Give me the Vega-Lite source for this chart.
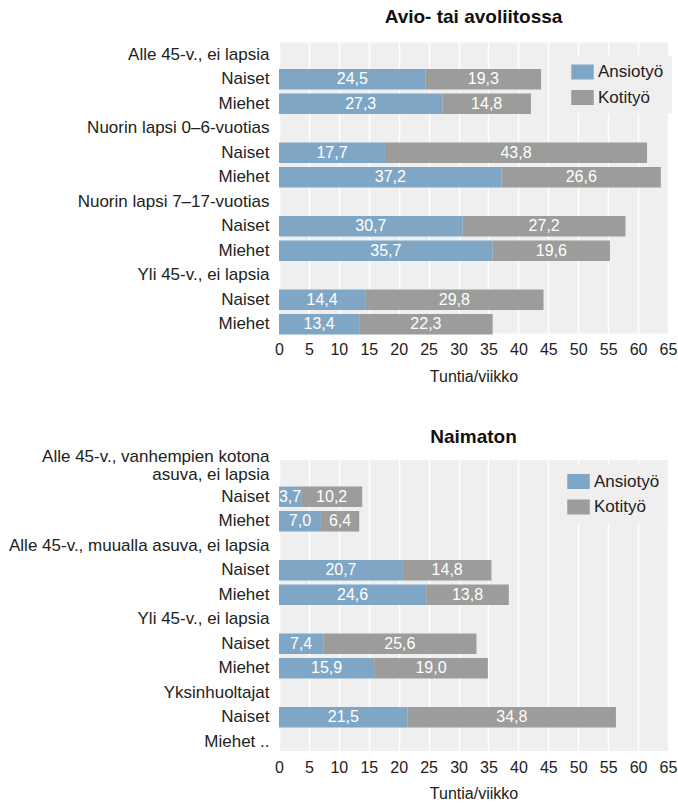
{
  "$schema": "https://vega.github.io/schema/vega-lite/v6.json",
  "padding": {"left": 8, "top": 7.5, "right": 5, "bottom": 5},
  "spacing": 43.5,
  "datasets": {
    "hours": [
      {"panel": "A", "row": "a1|Naiset", "type": "Ansiotyö", "hours": 24.5},
      {"panel": "A", "row": "a1|Naiset", "type": "Kotityö", "hours": 19.3},
      {"panel": "A", "row": "a2|Miehet", "type": "Ansiotyö", "hours": 27.3},
      {"panel": "A", "row": "a2|Miehet", "type": "Kotityö", "hours": 14.8},
      {"panel": "A", "row": "b1|Naiset", "type": "Ansiotyö", "hours": 17.7},
      {"panel": "A", "row": "b1|Naiset", "type": "Kotityö", "hours": 43.8},
      {"panel": "A", "row": "b2|Miehet", "type": "Ansiotyö", "hours": 37.2},
      {"panel": "A", "row": "b2|Miehet", "type": "Kotityö", "hours": 26.6},
      {"panel": "A", "row": "c1|Naiset", "type": "Ansiotyö", "hours": 30.7},
      {"panel": "A", "row": "c1|Naiset", "type": "Kotityö", "hours": 27.2},
      {"panel": "A", "row": "c2|Miehet", "type": "Ansiotyö", "hours": 35.7},
      {"panel": "A", "row": "c2|Miehet", "type": "Kotityö", "hours": 19.6},
      {"panel": "A", "row": "d1|Naiset", "type": "Ansiotyö", "hours": 14.4},
      {"panel": "A", "row": "d1|Naiset", "type": "Kotityö", "hours": 29.8},
      {"panel": "A", "row": "d2|Miehet", "type": "Ansiotyö", "hours": 13.4},
      {"panel": "A", "row": "d2|Miehet", "type": "Kotityö", "hours": 22.3},
      {"panel": "B", "row": "e1|Naiset", "type": "Ansiotyö", "hours": 3.7},
      {"panel": "B", "row": "e1|Naiset", "type": "Kotityö", "hours": 10.2},
      {"panel": "B", "row": "e2|Miehet", "type": "Ansiotyö", "hours": 7.0},
      {"panel": "B", "row": "e2|Miehet", "type": "Kotityö", "hours": 6.4},
      {"panel": "B", "row": "f1|Naiset", "type": "Ansiotyö", "hours": 20.7},
      {"panel": "B", "row": "f1|Naiset", "type": "Kotityö", "hours": 14.8},
      {"panel": "B", "row": "f2|Miehet", "type": "Ansiotyö", "hours": 24.6},
      {"panel": "B", "row": "f2|Miehet", "type": "Kotityö", "hours": 13.8},
      {"panel": "B", "row": "g1|Naiset", "type": "Ansiotyö", "hours": 7.4},
      {"panel": "B", "row": "g1|Naiset", "type": "Kotityö", "hours": 25.6},
      {"panel": "B", "row": "g2|Miehet", "type": "Ansiotyö", "hours": 15.9},
      {"panel": "B", "row": "g2|Miehet", "type": "Kotityö", "hours": 19.0},
      {"panel": "B", "row": "h1|Naiset", "type": "Ansiotyö", "hours": 21.5},
      {"panel": "B", "row": "h1|Naiset", "type": "Kotityö", "hours": 34.8}
    ]
  },
  "resolve": {"legend": {"color": "independent"}},
  "vconcat": [
    {
      "width": 389,
      "height": 291,
      "title": {"text": "Avio- tai avoliitossa", "offset": 16},
      "data": {"name": "hours"},
      "transform": [{"filter": "datum.panel === 'A'"}],
      "encoding": {
        "y": {
          "field": "row", "type": "nominal", "sort": null, "title": null,
          "scale": {"domain": ["a|Alle 45-v., ei lapsia", "a1|Naiset", "a2|Miehet", "b|Nuorin lapsi 0–6-vuotias", "b1|Naiset", "b2|Miehet", "c|Nuorin lapsi 7–17-vuotias", "c1|Naiset", "c2|Miehet", "d|Yli 45-v., ei lapsia", "d1|Naiset", "d2|Miehet"], "range": [0, 294], "paddingInner": 0.17, "paddingOuter": 0.085},
          "axis": {"labelExpr": "slice(split(datum.value, '|'), 1)", "ticks": false, "domain": false, "grid": false, "labelLimit": 400, "labelPadding": 10, "labelLineHeight": 18, "labelFontSize": 17}
        }
      },
      "layer": [
        {
          "mark": "bar",
          "encoding": {
            "x": {"field": "hours", "type": "quantitative", "stack": "zero", "scale": {"domain": [0, 65], "nice": false}, "title": "Tuntia/viikko",
              "axis": {"values": [0, 5, 10, 15, 20, 25, 30, 35, 40, 45, 50, 55, 60, 65], "labelOverlap": false, "grid": true, "gridColor": "#ffffff", "gridWidth": 1.5, "ticks": false, "domain": false, "labelPadding": 8, "titlePadding": 10.5, "labelFlush": false}},
            "color": {"field": "type", "type": "nominal", "scale": {"domain": ["Ansiotyö", "Kotityö"], "range": ["#7fa7c5", "#9c9c9b"]},
              "legend": {"orient": "none", "legendX": 287, "legendY": 13}}
          }
        },
        {
          "transform": [
            {"stack": "hours", "groupby": ["row"], "sort": [{"field": "type"}], "as": ["h0", "h1"]},
            {"fold": ["h0", "h1"], "as": ["edge", "pos"]}
          ],
          "mark": {"type": "text", "color": "#ffffff", "fontSize": 16},
          "encoding": {
            "x": {"aggregate": "mean", "field": "pos", "type": "quantitative", "title": "Tuntia/viikko",
              "axis": {"values": [0, 5, 10, 15, 20, 25, 30, 35, 40, 45, 50, 55, 60, 65], "labelOverlap": false, "grid": true, "gridColor": "#ffffff", "gridWidth": 1.5, "ticks": false, "domain": false, "labelPadding": 8, "titlePadding": 10.5, "labelFlush": false}},
            "text": {"field": "hours", "type": "quantitative", "format": ".1f"},
            "detail": {"field": "type"}
          }
        }
      ]
    },
    {
      "width": 389,
      "height": 291,
      "title": {"text": "Naimaton", "offset": 0.5},
      "data": {"name": "hours"},
      "transform": [{"filter": "datum.panel === 'B'"}],
      "encoding": {
        "y": {
          "field": "row", "type": "nominal", "sort": null, "title": null,
          "scale": {"domain": ["e|Alle 45-v., vanhempien kotona|asuva, ei lapsia", "e1|Naiset", "e2|Miehet", "f|Alle 45-v., muualla asuva, ei lapsia", "f1|Naiset", "f2|Miehet", "g|Yli 45-v., ei lapsia", "g1|Naiset", "g2|Miehet", "h|Yksinhuoltajat", "h1|Naiset", "h2|Miehet .."], "range": [0, 294], "paddingInner": 0.17, "paddingOuter": 0.085},
          "axis": {"labelExpr": "slice(split(datum.value, '|'), 1)", "ticks": false, "domain": false, "grid": false, "labelLimit": 400, "labelPadding": 10, "labelLineHeight": 18, "labelFontSize": 17,
            "labelOffset": {"condition": {"test": "indexof(datum.value, 'vanhempien') >= 0", "value": -15}, "value": 0}}
        }
      },
      "layer": [
        {
          "mark": "bar",
          "encoding": {
            "x": {"field": "hours", "type": "quantitative", "stack": "zero", "scale": {"domain": [0, 65], "nice": false}, "title": "Tuntia/viikko",
              "axis": {"values": [0, 5, 10, 15, 20, 25, 30, 35, 40, 45, 50, 55, 60, 65], "labelOverlap": false, "grid": true, "gridColor": "#ffffff", "gridWidth": 1.5, "ticks": false, "domain": false, "labelPadding": 8, "titlePadding": 10.5, "labelFlush": false}},
            "color": {"field": "type", "type": "nominal", "scale": {"domain": ["Ansiotyö", "Kotityö"], "range": ["#7fa7c5", "#9c9c9b"]},
              "legend": {"orient": "none", "legendX": 283, "legendY": 5}}
          }
        },
        {
          "transform": [
            {"stack": "hours", "groupby": ["row"], "sort": [{"field": "type"}], "as": ["h0", "h1"]},
            {"fold": ["h0", "h1"], "as": ["edge", "pos"]}
          ],
          "mark": {"type": "text", "color": "#ffffff", "fontSize": 16},
          "encoding": {
            "x": {"aggregate": "mean", "field": "pos", "type": "quantitative", "title": "Tuntia/viikko",
              "axis": {"values": [0, 5, 10, 15, 20, 25, 30, 35, 40, 45, 50, 55, 60, 65], "labelOverlap": false, "grid": true, "gridColor": "#ffffff", "gridWidth": 1.5, "ticks": false, "domain": false, "labelPadding": 8, "titlePadding": 10.5, "labelFlush": false}},
            "text": {"field": "hours", "type": "quantitative", "format": ".1f"},
            "detail": {"field": "type"}
          }
        }
      ]
    }
  ],
  "config": {
    "font": "Liberation Sans",
    "view": {"fill": "#efefef", "stroke": null},
    "axis": {"labelFontSize": 16, "titleFontSize": 16, "labelColor": "#222222", "titleColor": "#222222", "titleFontWeight": "normal"},
    "title": {"fontSize": 19, "fontWeight": "bold", "color": "#111111", "frame": "group", "anchor": "middle"},
    "legend": {"title": null, "symbolType": "M-1.5,-1H1.5V1H-1.5Z", "symbolSize": 225, "symbolStrokeWidth": 0, "symbolOpacity": 1, "labelFontSize": 17, "labelColor": "#222222", "fillColor": "#efefef", "padding": 8, "rowPadding": 7.5, "labelOffset": 7},
    "locale": {"number": {"decimal": ",", "thousands": " ", "grouping": [3], "currency": ["", " €"]}}
  }
}
